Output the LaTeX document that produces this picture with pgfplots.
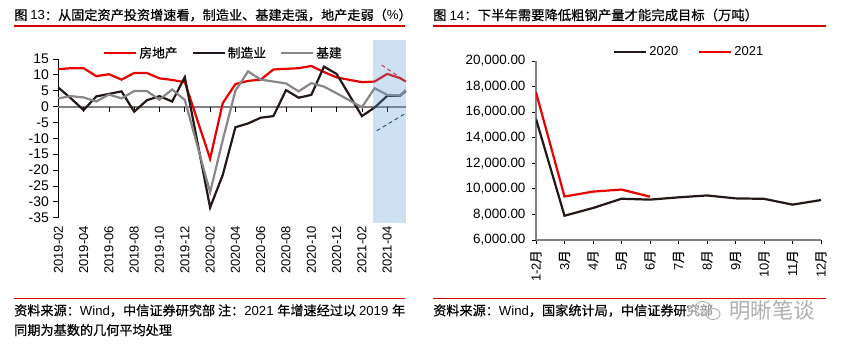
\documentclass[border=0pt]{standalone}
\usepackage{fontspec}
\setmainfont{Liberation Sans}
\newfontfamily\cjk{Noto Sans CJK SC}[FakeBold=0.5]
\newfontfamily\cjkwm{Noto Sans CJK SC}
\usepackage{pgfplots}
\pgfplotsset{compat=1.18}
\definecolor{cred}{RGB}{235,0,0}
\definecolor{cblack}{RGB}{35,24,21}
\definecolor{cgray}{RGB}{135,135,135}
\definecolor{axgray}{RGB}{128,128,128}
\definecolor{shadeblue}{RGB}{91,155,213}
\definecolor{rulered}{RGB}{210,0,0}
\definecolor{navy}{RGB}{15,35,85}
\definecolor{wm}{RGB}{175,175,175}
\newcommand\yue{{\cjk 月}}
\begin{document}
\begin{tikzpicture}
\useasboundingbox (0,0) rectangle (841bp,-345bp);
% ---------- titles ----------
\node[anchor=west, inner sep=0] at (14bp,-15bp) {\fontsize{13.2}{15}\selectfont{\cjk 图 }13{\cjk ：从固定资产投资增速看，制造业、基建走强，地产走弱（}\%{\cjk ）}};
\node[anchor=west, inner sep=0] at (433bp,-15bp) {\fontsize{13.4}{15}\selectfont{\cjk 图 }14{\cjk ：下半年需要降低粗钢产量才能完成目标（万吨）}};
\draw[rulered, line width=2bp] (14bp,-25.5bp) -- (405bp,-25.5bp);
\draw[rulered, line width=2bp] (433bp,-25.5bp) -- (826bp,-25.5bp);
% ---------- bottom notes ----------
\draw[rulered, line width=0.8bp] (14bp,-298bp) -- (405bp,-298bp);
\draw[rulered, line width=0.8bp] (433bp,-298bp) -- (826bp,-298bp);
\node[anchor=west, inner sep=0] at (14bp,-310.5bp) {\fontsize{13.2}{15}\selectfont{\cjk 资料来源：}Wind{\cjk ，中信证券研究部 注：}2021 {\cjk 年增速经过以 }2019 {\cjk 年}};
\node[anchor=west, inner sep=0] at (14bp,-330bp) {\fontsize{13.2}{15}\selectfont{\cjk 同期为基数的几何平均处理}};
\node[anchor=west, inner sep=0] at (433bp,-310.5bp) {\fontsize{13.2}{15}\selectfont{\cjk 资料来源：}Wind{\cjk ，国家统计局，中信证券研究部}};
% watermark
\fill[white, opacity=0.6] (688bp,-299bp) rectangle (820bp,-323bp);
\draw[wm, line width=0.9bp] (703bp,-308bp) ellipse (8bp and 6.5bp);
\draw[wm, line width=0.9bp] (713bp,-314bp) ellipse (7bp and 5.5bp);
\node[anchor=west, inner sep=0, text=wm] at (729bp,-310bp) {\fontsize{21.5}{23}\selectfont\cjkwm 明晰笔谈};
% ---------- left chart ----------
\begin{axis}[
  at={(58.3bp,-217.7bp)}, anchor=south west,
  scale only axis, width=347.4bp, height=158.7bp,
  xmin=0, xmax=27.46, ymin=-35, ymax=15,
  clip=false,
  axis lines*=left,
  x axis line style={draw=none},
  y axis line style={black, line width=0.8bp},
  xtick={0,2,...,26},
  xticklabels={2019-02,2019-04,2019-06,2019-08,2019-10,2019-12,2020-02,2020-04,2020-06,2020-08,2020-10,2020-12,2021-02,2021-04},
  x tick style={draw=none},
  x tick label style={rotate=90, anchor=east, font=\fontsize{13}{13}\selectfont},
  ytick={-35,-30,...,15},
  yticklabels={-35,-30,-25,-20,-15,-10,-5,0,5,10,15},
  y tick style={black, line width=0.8bp},
  tick align=outside, major tick length=5bp,
  y tick label style={font=\fontsize{14}{14}\selectfont, xshift=-1bp},
  legend columns=3,
  legend style={draw=none, fill=none, at={(0.12,1.038)}, anchor=west,
    font=\cjk\fontsize{12.8}{14}\selectfont,
    /tikz/every even column/.append style={column sep=12bp}},
  legend image code/.code={\draw[#1] (0bp,0bp) -- (32bp,0bp);},
]
\draw[axgray, line width=2bp] (axis cs:0,0) -- (axis cs:27.46,0);
\pgfplotsinvokeforeach{2,4,...,26}{\draw[black, line width=0.8bp] (axis cs:#1,0) -- ++(0bp,-5bp);}
\addplot[cred, line width=2.2bp] coordinates {
 (0,11.8) (1,12.1) (2,12.1) (3,9.6) (4,10.2) (5,8.5) (6,10.6) (7,10.6) (8,8.9) (9,8.4) (10,7.7)
 (12,-16.4) (13,1.1) (14,7.1) (15,8.1) (16,8.5) (17,11.7) (18,11.9) (19,12.1) (20,12.8) (21,10.9) (22,9.2)
 (24,7.7) (25,7.9) (26,10.3) (27,9.0) (27.46,7.9)};
\addplot[cblack, line width=2.2bp] coordinates {
 (0,6.0) (1,2.6) (2,-1.1) (3,3.2) (4,4.0) (5,4.8) (6,-1.6) (7,2.0) (8,3.3) (9,1.6) (10,9.3)
 (12,-31.8) (13,-21.5) (14,-6.5) (15,-5.3) (16,-3.5) (17,-3.0) (18,5.2) (19,2.8) (20,3.7) (21,12.6) (22,10.3)
 (24,-3.0) (25,-0.3) (26,3.4) (27,3.4) (27.46,4.9)};
\addplot[cgray, line width=2.2bp] coordinates {
 (0,2.6) (1,3.3) (2,2.9) (3,1.6) (4,3.8) (5,2.6) (6,4.9) (7,4.9) (8,2.2) (9,5.4) (10,2.1)
 (12,-27.0) (13,-10.5) (14,5.0) (15,11.1) (16,8.5) (17,7.9) (18,7.3) (19,4.8) (20,7.4) (21,6.3) (22,4.2)
 (24,-0.2) (25,5.8) (26,3.7) (27,3.5) (27.46,5.2)};
\addplot[cred, dash pattern=on 4bp off 3bp, line width=0.9bp, forget plot] coordinates {(25.56,13.1) (27.46,8.0)};
\addplot[navy, dash pattern=on 4bp off 3bp, line width=0.9bp, forget plot] coordinates {(25.17,-7.6) (27.46,-2.1)};
\fill[shadeblue, fill opacity=0.3] (axis cs:24.88,21) rectangle (axis cs:27.46,-36.6);
\legend{房地产,制造业,基建}
\end{axis}
% ---------- right chart ----------
\begin{axis}[
  at={(536bp,-240bp)}, anchor=south west,
  scale only axis, width=285bp, height=179bp,
  xmin=0, xmax=10, ymin=6000, ymax=20000,
  scaled y ticks=false,
  axis lines*=left,
  axis line style={axgray, line width=1.5bp},
  xtick={0,...,10},
  xticklabels={1-2\yue,3\yue,4\yue,5\yue,6\yue,7\yue,8\yue,9\yue,10\yue,11\yue,12\yue},
  x tick label style={rotate=90, anchor=east, font=\fontsize{13}{13}\selectfont, inner xsep=6bp},
  ytick={6000,8000,...,20000},
  yticklabels={{6,000.00},{8,000.00},{10,000.00},{12,000.00},{14,000.00},{16,000.00},{18,000.00},{20,000.00}},
  y tick label style={font=\fontsize{13.5}{13.5}\selectfont, xshift=-3bp},
  tick align=outside, major tick length=4bp,
  tick style={black, line width=0.8bp},
  legend columns=2,
  legend style={draw=none, fill=none, at={(0.26,1.05)}, anchor=west,
    font=\fontsize{13}{14}\selectfont,
    /tikz/every even column/.append style={column sep=18bp}},
  legend image code/.code={\draw[#1] (0bp,0bp) -- (32bp,0bp);},
]
\addplot[cblack, line width=2.2bp] coordinates {
 (0,15470) (1,7898) (2,8503) (3,9227) (4,9158) (5,9336) (6,9485) (7,9255) (8,9220) (9,8766) (10,9125)};
\addplot[cred, line width=2.2bp] coordinates {
 (0,17553) (1,9402) (2,9785) (3,9945) (4,9388)};
\legend{2020,2021}
\end{axis}
\end{tikzpicture}
\end{document}
